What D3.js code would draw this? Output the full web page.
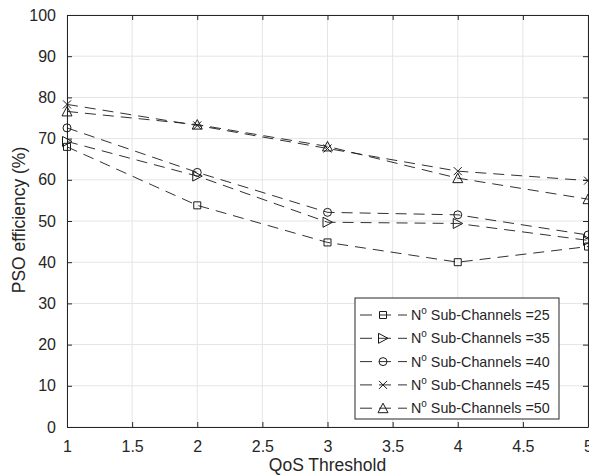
<!DOCTYPE html>
<html>
<head>
<meta charset="utf-8">
<script src="https://cdn.jsdelivr.net/npm/d3@7"></script>
<style>
  body { margin: 0; background: #fff; }
  svg { display: block; font-family: "Liberation Sans", Arial, sans-serif; }
</style>
</head>
<body>
<div id="chart-area"></div>
<script>

// Data
var qos = [1, 2, 3, 4, 5];
var subChannels = [25, 35, 40, 45, 50];
var eff25 = [68.0, 53.8, 44.8, 40.0, 43.8];
var eff35 = [69.3, 60.9, 49.7, 49.4, 45.3];
var eff40 = [72.6, 61.8, 52.1, 51.5, 46.6];
var eff45 = [78.3, 73.2, 67.6, 62.1, 59.8];
var eff50 = [76.6, 73.4, 68.1, 60.4, 55.3];
var xTicks = [1, 1.5, 2, 2.5, 3, 3.5, 4, 4.5, 5];
var yTicks = [0, 10, 20, 30, 40, 50, 60, 70, 80, 90, 100];

var seriesValues = [eff25, eff35, eff40, eff45, eff50];
var markerTypes = ["square", "triRight", "circle", "cross", "triUp"];

// SVG drawing area
var margin = {top: 15, right: 1, bottom: 48, left: 67};
var width = 589 - margin.left - margin.right;
var height = 475 - margin.top - margin.bottom;

var svg = d3.select("#chart-area").append("svg")
    .attr("width", width + margin.left + margin.right)
    .attr("height", height + margin.top + margin.bottom)
  .append("g")
    .attr("transform", "translate(" + margin.left + "," + margin.top + ")");

var axisColor = "#262626";
var lineColor = "#1a1a1a";

// Scales
var x = d3.scaleLinear().domain([1, 5]).range([0, width]);
var y = d3.scaleLinear().domain([0, 100]).range([height, 0]);

// Grid
svg.append("g").attr("class", "grid")
  .selectAll("line.v").data(xTicks).enter().append("line")
    .attr("x1", function(d){ return x(d); })
    .attr("x2", function(d){ return x(d); })
    .attr("y1", 0).attr("y2", height)
    .attr("stroke", "#e5e5e5").attr("stroke-width", 1);
svg.select(".grid")
  .selectAll("line.h").data(yTicks).enter().append("line")
    .attr("x1", 0).attr("x2", width)
    .attr("y1", function(d){ return y(d); })
    .attr("y2", function(d){ return y(d); })
    .attr("stroke", "#e5e5e5").attr("stroke-width", 1);

// Axes (ticks inward, box on)
var xAxis = d3.axisBottom(x).tickValues(xTicks).tickSizeInner(-5).tickSizeOuter(0)
  .tickPadding(14).tickFormat(d3.format("~g"));
var yAxis = d3.axisLeft(y).tickValues(yTicks).tickSizeInner(-5).tickSizeOuter(0)
  .tickPadding(11);
var xAxisTop = d3.axisTop(x).tickValues(xTicks).tickSizeInner(-5).tickSizeOuter(0).tickFormat("");
var yAxisRight = d3.axisRight(y).tickValues(yTicks).tickSizeInner(-5).tickSizeOuter(0).tickFormat("");

var gx = svg.append("g").attr("transform", "translate(0," + height + ")").call(xAxis);
var gy = svg.append("g").call(yAxis);
var gxt = svg.append("g").call(xAxisTop);
var gyr = svg.append("g").attr("transform", "translate(" + width + ",0)").call(yAxisRight);

[gx, gy, gxt, gyr].forEach(function(g){
  g.selectAll("path").attr("stroke", axisColor).attr("stroke-width", 1);
  g.selectAll("line").attr("stroke", axisColor);
  g.selectAll("text").attr("fill", axisColor).style("font-size", "16px")
    .style("font-family", "Liberation Sans, Arial, sans-serif");
});

// Axis labels
svg.append("text")
  .attr("x", width / 2)
  .attr("y", height + 44)
  .attr("text-anchor", "middle")
  .attr("fill", axisColor)
  .style("font-size", "17.5px")
  .text("QoS Threshold");

svg.append("text")
  .attr("transform", "translate(" + (25 - margin.left) + "," + (220 - margin.top) + ") rotate(-90)")
  .attr("text-anchor", "middle")
  .attr("fill", axisColor)
  .style("font-size", "17.5px")
  .text("PSO efficiency (%)");

// Marker shapes
function markerPath(type) {
  if (type === "square") return "M-3.5,-3.5h7v7h-7z";
  if (type === "circle") return "M4,0A4,4 0 1,1 -4,0A4,4 0 1,1 4,0Z";
  if (type === "triUp") return "M0,-5L5,4.5L-5,4.5Z";
  if (type === "triRight") return "M-4.5,-5L5,0L-4.5,5Z";
  return "M-4,-4L4,4M-4,4L4,-4";
}

// Lines
var line = d3.line()
  .x(function(d, i){ return x(qos[i]); })
  .y(function(d){ return y(d); });

var plot = svg.append("g");

seriesValues.forEach(function(vals, k){
  plot.append("path")
    .attr("d", line(vals))
    .attr("fill", "none")
    .attr("stroke", lineColor)
    .attr("stroke-width", 0.9)
    .attr("stroke-dasharray", "11,7");

  plot.selectAll(".m" + k).data(vals).enter().append("path")
    .attr("class", "m" + k)
    .attr("transform", function(d, i){ return "translate(" + x(qos[i]) + "," + y(d) + ")"; })
    .attr("d", markerPath(markerTypes[k]))
    .attr("fill", "none")
    .attr("stroke", lineColor)
    .attr("stroke-width", 1);
});

// Legend
var lx = 355 - margin.left, ly = 298 - margin.top;
var legend = svg.append("g").attr("transform", "translate(" + lx + "," + ly + ")");

legend.append("rect")
  .attr("width", 204).attr("height", 121)
  .attr("fill", "#fff")
  .attr("stroke", axisColor).attr("stroke-width", 1);

subChannels.forEach(function(n, k){
  var row = legend.append("g").attr("transform", "translate(0," + (17 + k * 23.3) + ")");
  row.append("line")
    .attr("x1", 5).attr("x2", 52).attr("y1", 0).attr("y2", 0)
    .attr("stroke", lineColor).attr("stroke-width", 0.9)
    .attr("stroke-dasharray", "12,7");
  row.append("path")
    .attr("transform", "translate(28,0)")
    .attr("d", markerPath(markerTypes[k]))
    .attr("fill", "none").attr("stroke", lineColor);
  var t = row.append("text")
    .attr("x", 56).attr("y", 5)
    .attr("fill", axisColor)
    .style("font-size", "14.3px");
  t.append("tspan").text("N");
  t.append("tspan").attr("dy", -6).style("font-size", "10px").text("o");
  t.append("tspan").attr("dy", 6).text(" Sub-Channels =" + n);
});

</script>
</body>
</html>
